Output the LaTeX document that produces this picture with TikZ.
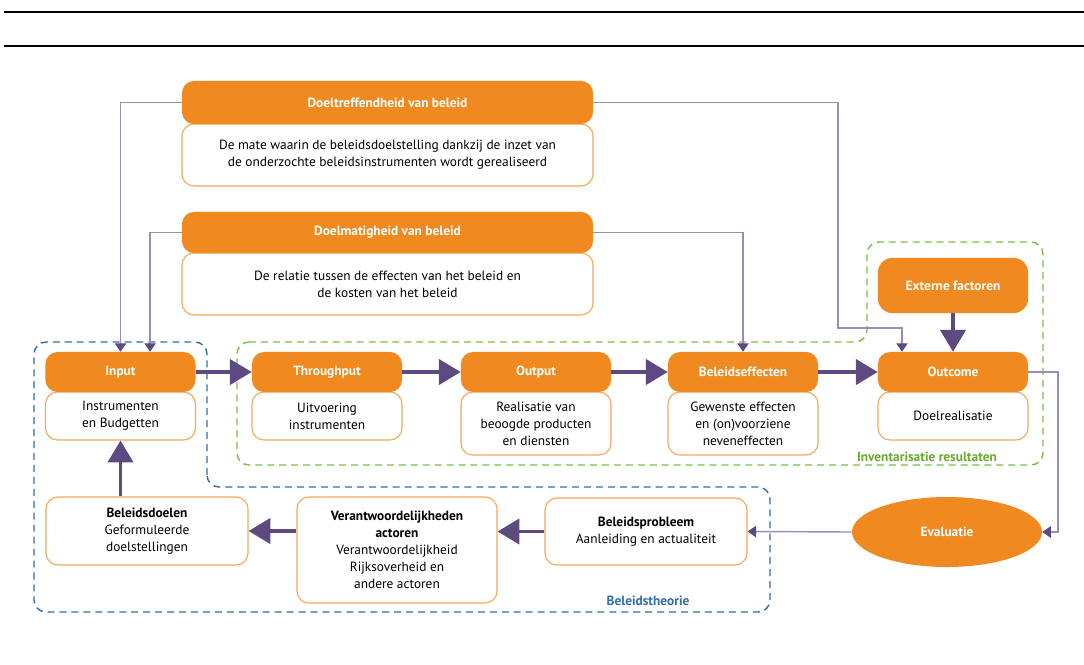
\documentclass[tikz,border=0pt]{standalone}
\usepackage{fontspec}
\setmainfont{PT Sans}
\usepackage{xcolor}
\usepackage{tikz}
\usetikzlibrary{arrows.meta,shapes.geometric}
\definecolor{oranje}{HTML}{F0891F}
\definecolor{oranjerand}{HTML}{F5A85A}
\definecolor{paars}{HTML}{5C4A80}
\definecolor{lila}{HTML}{9A8BB8}
\definecolor{blauw}{HTML}{2F6FAB}
\definecolor{groen}{HTML}{7DBE45}
\definecolor{groentekst}{HTML}{6AAA2E}

\begin{document}
\begin{tikzpicture}[x=0.025cm,y=-0.025cm,
		font=\fontsize{9.5}{12}\selectfont,
		kop/.style={rectangle,rounded corners=0.3cm,fill=oranje,text=white,font=\fontsize{9.5}{12}\selectfont\bfseries,
			minimum width=3.75cm,minimum height=1cm,inner sep=0pt},
		tekst/.style={rectangle,rounded corners=0.3cm,draw=oranjerand,line width=0.8pt,fill=white,align=center,
			minimum width=3.75cm,inner sep=2pt},
		lijn/.style={draw=lila,line width=1pt,-{Triangle[length=6pt,width=8pt,color=paars]}},
		stroom/.style={draw=paars,line width=2.2pt,-{Triangle[length=15.5pt,width=18pt]}},
		gebied/.style={dashed,dash pattern=on 5pt off 3.5pt,line width=1pt,rounded corners=0.3cm}]
		\useasboundingbox (0,0) rectangle (1084,664);
		
		\draw[line width=1.5pt] (4,12) -- (1084,12);
		\draw[line width=0.8pt] (4,46) -- (1084,46);
		
		\draw[gebied,blauw] (207,487) -- (207,342) -- (34,342) -- (34,612) -- (770,612) -- (770,487) -- cycle;
		\draw[gebied,groen] (237,342) -- (867,342) -- (867,242) -- (1043,242) -- (1043,465) -- (237,465) -- cycle;
		\node[font=\fontsize{9.5}{12}\selectfont\bfseries,text=blauw] (theorie) at (648,601) {Beleidstheorie};
		\node[font=\fontsize{9.5}{12}\selectfont\bfseries,text=groentekst] (inventaris) at (927,457) {Inventarisatie resultaten};
		
		\node[tekst,minimum width=10.275cm,minimum height=1.55cm] (doeltb) at (387.5,155)
			{De mate waarin de beleidsdoelstelling dankzij de inzet van\\de onderzochte beleidsinstrumenten wordt gerealiseerd};
		\node[kop,minimum width=10.275cm,minimum height=1.075cm] (doelt) at (387.5,102.5) {Doeltreffendheid van beleid};
		\node[tekst,minimum width=10.275cm,minimum height=1.55cm] (doelmb) at (387.5,284)
			{De relatie tussen de effecten van het beleid en\\de kosten van het beleid};
		\node[kop,minimum width=10.275cm,minimum height=1.025cm] (doelm) at (387.5,232.5) {Doelmatigheid van beleid};
		
		\node[tekst,minimum height=1.2cm] (inb) at (120.5,416) {Instrumenten\\en Budgetten};
		\node[kop] (in) at (120.5,372) {Input};
		\node[tekst,minimum height=1.2cm] (thrb) at (327,416) {Uitvoering\\instrumenten};
		\node[kop] (thr) at (327,372) {Throughput};
		\node[tekst,minimum height=1.575cm] (outb) at (536,423.5) {Realisatie van\\beoogde producten\\en diensten};
		\node[kop] (out) at (536,372) {Output};
		\node[tekst,minimum height=1.575cm] (effb) at (743,423.5) {Gewenste effecten\\en (on)voorziene\\neveneffecten};
		\node[kop] (eff) at (743,372) {Beleidseffecten};
		\node[tekst,minimum height=1.2cm] (outcb) at (953,416) {Doelrealisatie};
		\node[kop] (outc) at (953,372) {Outcome};
		\node[kop,minimum height=1.375cm,rounded corners=0.35cm] (ext) at (953,285.5) {Externe factoren};
		
		\node[tekst,minimum width=5.05cm,minimum height=1.7cm] (doel) at (147,531)
			{\textbf{Beleidsdoelen}\\Geformuleerde\\doelstellingen};
		\node[tekst,minimum width=5cm,minimum height=2.65cm] (verant) at (397,550)
			{\textbf{Verantwoordelijkheden}\\\textbf{actoren}\\Verantwoordelijkheid\\Rijksoverheid en\\andere actoren};
		\node[tekst,minimum width=5.05cm,minimum height=1.675cm] (prob) at (646,531.5)
			{\textbf{Beleidsprobleem}\\Aanleiding en actualiteit};
		\node[ellipse,fill=oranje,text=white,font=\fontsize{9.5}{12}\selectfont\bfseries,
			minimum width=4.75cm,minimum height=1.75cm,inner sep=0pt] (eval) at (947,532) {Evaluatie};
		
		\coordinate (knik) at (838,328);
		\coordinate (bocht) at (1058,532);
		
		\draw[lijn] (doelt.west) -| (in.north);
		\draw[lijn] (doelm.west) -| ([xshift=0.74cm]in.north);
		\draw[lijn] (doelm.east) -| (eff.north);
		\draw[lijn] (doelt.east) -| (knik) -| ([xshift=-1.275cm]outc.north);
		\draw[lijn] (outc.east) -| (bocht) -- (eval.east);
		\draw[lijn] (eval.west) -- (prob.east);
		
		\draw[stroom] (in.east) -- (thr.west);
		\draw[stroom] (thr.east) -- (out.west);
		\draw[stroom] (out.east) -- (eff.west);
		\draw[stroom] (eff.east) -- (outc.west);
		\draw[stroom] (ext.south) -- (outc.north);
		\draw[stroom] (prob.west) -- (prob.west -| verant.east);
		\draw[stroom] (verant.west |- doel.east) -- (doel.east);
		\draw[stroom] (doel.north -| inb.south) -- (inb.south);
	\end{tikzpicture}
\end{document}
